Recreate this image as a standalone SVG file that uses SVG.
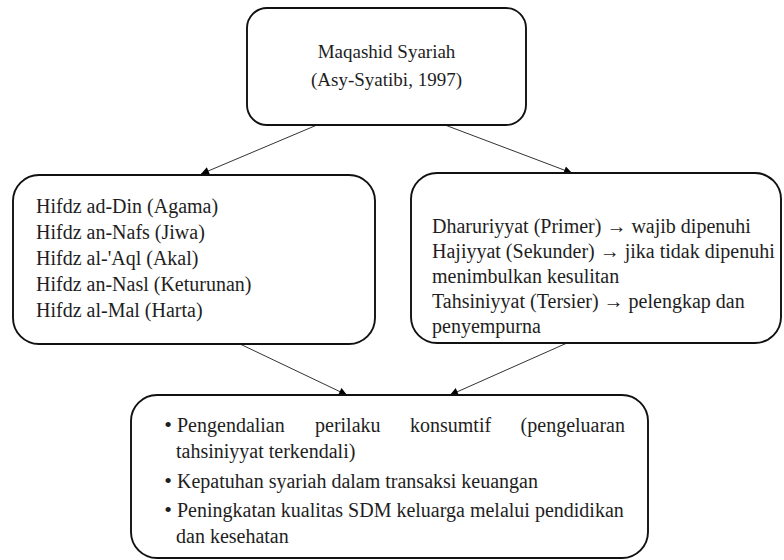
<svg xmlns="http://www.w3.org/2000/svg" width="784" height="560" viewBox="0 0 784 560">
<style>
.box{fill:#fff;stroke:#111;stroke-width:1.9}
text{font-family:"Liberation Serif","DejaVu Serif","Times New Roman",serif;fill:#1e1e1e}
.t{font-size:20px}
.tc{text-anchor:middle;font-size:19px}
.b{font-size:22px;text-anchor:middle}
.c{stroke:#333;stroke-width:1;fill:none;marker-end:url(#ah)}
</style>
<defs>
<marker id="ah" viewBox="0 0 10 10" refX="10" refY="5" markerWidth="9" markerHeight="8" markerUnits="userSpaceOnUse" orient="auto">
<path d="M0,0 L10,5 L0,10 Z" fill="#000"/>
</marker>
</defs>
<rect width="784" height="560" fill="#fff"/>
<g id="connectors">
<line class="c" x1="317" y1="125" x2="201" y2="174"/>
<line class="c" x1="445" y1="125" x2="572" y2="173"/>
<line class="c" x1="240" y1="344" x2="347" y2="395"/>
<line class="c" x1="567" y1="343" x2="450" y2="395"/>
</g>
<g id="node-maqashid">
<rect class="box" x="247" y="8" width="279" height="117" rx="20"/>
<text class="t tc" x="386.5" y="58">Maqashid Syariah</text>
<text class="t tc" x="386.5" y="86">(Asy-Syatibi, 1997)</text>
</g>
<g id="node-hifdz">
<rect class="box" x="13" y="175" width="362" height="169" rx="26"/>
<text class="t" x="36" y="213">Hifdz ad-Din (Agama)</text>
<text class="t" x="36" y="239">Hifdz an-Nafs (Jiwa)</text>
<text class="t" x="36" y="265">Hifdz al-'Aql (Akal)</text>
<text class="t" x="36" y="291">Hifdz an-Nasl (Keturunan)</text>
<text class="t" x="36" y="317">Hifdz al-Mal (Harta)</text>
</g>
<g id="node-tingkatan">
<rect class="box" x="411" y="173" width="370" height="170" rx="26"/>
<text class="t" x="432" y="233">Dharuriyyat (Primer) → wajib dipenuhi</text>
<text class="t" x="432" y="258">Hajiyyat (Sekunder) → jika tidak dipenuhi</text>
<text class="t" x="432" y="283">menimbulkan kesulitan</text>
<text class="t" x="432" y="308">Tahsiniyyat (Tersier) → pelengkap dan</text>
<text class="t" x="432" y="333">penyempurna</text>
</g>
<g id="node-implikasi">
<rect class="box" x="131" y="395" width="517" height="163" rx="26"/>
<text class="b" x="168" y="432">•</text>
<text class="t" x="177" y="432">Pengendalian</text>
<text class="t" x="315" y="432">perilaku</text>
<text class="t" x="410" y="432">konsumtif</text>
<text class="t" x="625" y="432" text-anchor="end">(pengeluaran</text>
<text class="t" x="176" y="458">tahsiniyyat terkendali)</text>
<text class="b" x="168" y="488">•</text>
<text class="t" x="177" y="488">Kepatuhan syariah dalam transaksi keuangan</text>
<text class="b" x="168" y="517">•</text>
<text class="t" x="177" y="517">Peningkatan kualitas SDM keluarga melalui pendidikan</text>
<text class="t" x="176" y="543">dan kesehatan</text>
</g>
</svg>
